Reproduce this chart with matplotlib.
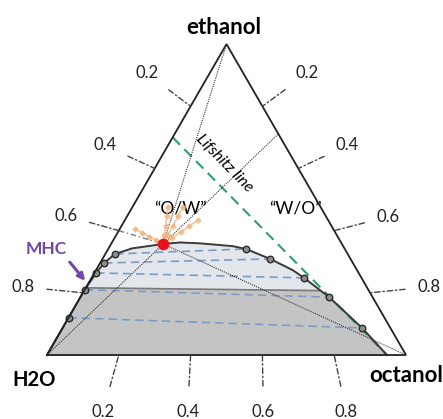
import numpy as np
import matplotlib
matplotlib.use("Agg")
import matplotlib.pyplot as plt

plt.rcParams['font.family'] = ['Lato', 'DejaVu Sans']

# compositions are (octanol, ethanol); water = 1 - octanol - ethanol
binodal_oct = [0.0, 0.0, 0.0, 0.005, 0.011, 0.027, 0.066, 0.145, 0.189, 0.248,
               0.343, 0.384, 0.467, 0.548, 0.592, 0.693, 0.834, 0.947]
binodal_eth = [0.0, 0.12, 0.21, 0.264, 0.296, 0.325, 0.343, 0.357, 0.362, 0.359,
               0.350, 0.341, 0.309, 0.273, 0.248, 0.186, 0.087, 0.0]

# measured points on the binodal
pts_oct = [0.0, 0.0, 0.005, 0.011, 0.027, 0.384, 0.467, 0.592, 0.693, 0.834]
pts_eth = [0.12, 0.21, 0.264, 0.296, 0.325, 0.341, 0.309, 0.248, 0.186, 0.087]

# tie lines: left end / right end
tie_left_oct = [0.027, 0.011, 0.005, 0.0, 0.0]
tie_left_eth = [0.325, 0.296, 0.264, 0.21, 0.12]
tie_right_oct = [0.384, 0.467, 0.592, 0.693, 0.834]
tie_right_eth = [0.341, 0.309, 0.248, 0.186, 0.087]

# boundary between light and dark two-phase zones
zone_oct = [0.0, 0.655]
zone_eth = [0.216, 0.207]

# critical point (MHC)
crit_oct, crit_eth = 0.145, 0.357

# Lifshitz line
lif_oct = [0.0, 0.947]
lif_eth = [0.70, 0.0]

# orange rays out of the critical point
ray_oct = [0.043, 0.099, 0.141, 0.204]
ray_eth = [0.405, 0.476, 0.476, 0.434]

tick_vals = [0.2, 0.4, 0.6, 0.8]
tick_labels = ["0.2", "0.4", "0.6", "0.8"]


def xy(o, e):
    o = np.asarray(o, dtype=float)
    e = np.asarray(e, dtype=float)
    return o + e / 2, e * np.sqrt(3) / 2


fig = plt.figure(figsize=(4.43, 4.19), dpi=100)
ax = fig.add_axes([0, 0, 1, 1])
s = 359.0
ax.set_xlim(-47 / s, (443 - 47) / s)
ax.set_ylim((355 - 419) / s, 355 / s)
ax.axis("off")

# two-phase region
bx, by = xy(binodal_oct, binodal_eth)
ax.fill(bx, by, color="#e3e6eb", zorder=1)
dark_o = [0.0] + zone_oct + [o for o, e in zip(binodal_oct, binodal_eth) if e < zone_eth[1] and o > 0.5]
dark_e = [0.0] + zone_eth + [e for o, e in zip(binodal_oct, binodal_eth) if e < zone_eth[1] and o > 0.5]
dx_, dy_ = xy(dark_o, dark_e)
ax.fill(dx_, dy_, color="#c4c4c4", zorder=1.5)
zx, zy = xy(zone_oct, zone_eth)
ax.plot(zx, zy, color="#7a7a7a", lw=1.2, zorder=2)

# tie lines
for lo, le, ro, re in zip(tie_left_oct, tie_left_eth, tie_right_oct, tie_right_eth):
    tx, ty = xy([lo, ro], [le, re])
    ax.plot(tx, ty, color="#7d9cc4", lw=1.2, ls=(0, (5, 3)), zorder=2.5)

# Lifshitz line
lx, ly = xy(lif_oct, lif_eth)
ax.plot(lx, ly, color="#2f9e6a", lw=1.5, ls=(0, (5, 3)), zorder=3)

# dotted guide lines through the critical point
cx, cy = xy(crit_oct, crit_eth)
for o2, e2 in [(0.0, 1.0), (0.289, 0.711), (1.0, 0.0), (0.0, 0.0)]:
    gx, gy = xy([crit_oct, o2], [crit_eth, e2])
    ax.plot(gx, gy, color="#333333", lw=0.8, ls=(0, (1, 1)), zorder=3)

# binodal curve
ax.plot(bx, by, color="#3a3a3a", lw=1.4, zorder=4)

# orange rays
for ro, re in zip(ray_oct, ray_eth):
    rx, ry = xy([crit_oct, ro], [crit_eth, re])
    ax.plot(np.linspace(rx[0], rx[1], 5), np.linspace(ry[0], ry[1], 5),
            color="#f2b27a", lw=1.3, alpha=0.7, marker="D", ms=2.6,
            markevery=slice(1, 5), zorder=4.5)

# points
px_, py_ = xy(pts_oct, pts_eth)
ax.scatter(px_, py_, s=22, facecolor="#8c8c8c", edgecolor="#2b2b2b", lw=1.0, zorder=5)
ax.scatter([cx], [cy], s=55, color="#e8141c", zorder=6)

# triangle
tri_x, tri_y = xy([0, 1, 0, 0], [0, 0, 1, 0])
ax.plot(tri_x, tri_y, color="#222222", lw=1.3, zorder=7, solid_joinstyle="miter")

# axis ticks with dash-dot leaders
tick_kw = dict(fontsize=12, ha="center", va="center", color="#222222",
               textcoords="offset pixels", zorder=8)
leader = dict(arrowstyle="-", ls=(0, (4, 2, 1, 2)), color="#444444", lw=1.0,
              shrinkA=7, shrinkB=0)
left_off = [(-44, 33), (-50, 23), (-53, 15), (-60, 6)]
right_off = [(45, 33), (49, 23), (54, 14), (59, 6)]
bottom_off = [(-16, -57), (-3, -57), (1, -57), (12, -57)]
for v, lab, lo, ro, bo in zip(tick_vals, tick_labels, left_off, right_off, bottom_off):
    ex, ey = xy(0.0, 1 - v)
    ax.annotate(lab, xy=(ex, ey), xytext=lo, arrowprops=leader, **tick_kw)
    ex, ey = xy(v, 1 - v)
    ax.annotate(lab, xy=(ex, ey), xytext=ro, arrowprops=leader, **tick_kw)
    ex, ey = xy(v, 0.0)
    ax.annotate(lab, xy=(ex, ey), xytext=bo, arrowprops=dict(leader, shrinkA=11), **tick_kw)

# 0.6 leader continues to the critical point
ex, ey = xy(0.0, 0.4)
ax.plot([ex, cx], [ey, cy], color="#6a7f9a", lw=1.0, ls=(0, (4, 2, 1, 2)), zorder=3)

# corner labels
ax.text(0.5 - 3 / s, (355 - 28) / s, "ethanol", fontsize=16, fontweight="bold",
        ha="center", va="center")
ax.text(-13 / s, -25 / s, "H2O", fontsize=14.5, fontweight="bold",
        ha="center", va="center")
ax.text(396 / s, -20 / s, "octanol", fontsize=16, fontweight="bold",
        ha="right", va="center")

# annotations
ax.text(133 / s, (355 - 208) / s, "\u201cO/W\u201d", fontsize=12.5, ha="center", va="center")
ax.text(248 / s, (355 - 208) / s, "\u201cW/O\u201d", fontsize=12.5, ha="center", va="center")
ax.text(177 / s, (355 - 163) / s, "Lifshitz line", fontsize=11.5, style="italic",
        rotation=-45.5, ha="center", va="center")
ax.text(-1 / s, (355 - 249) / s, "MHC", fontsize=12.5, fontweight="bold",
        color="#7446a8", ha="center", va="center")
ax.annotate("", xy=(40 / s, (355 - 283) / s), xytext=(21 / s, (355 - 260) / s),
            arrowprops=dict(arrowstyle="-|>", color="#7446a8", lw=2.2,
                            mutation_scale=10))

fig.savefig("out.png", dpi=100)
